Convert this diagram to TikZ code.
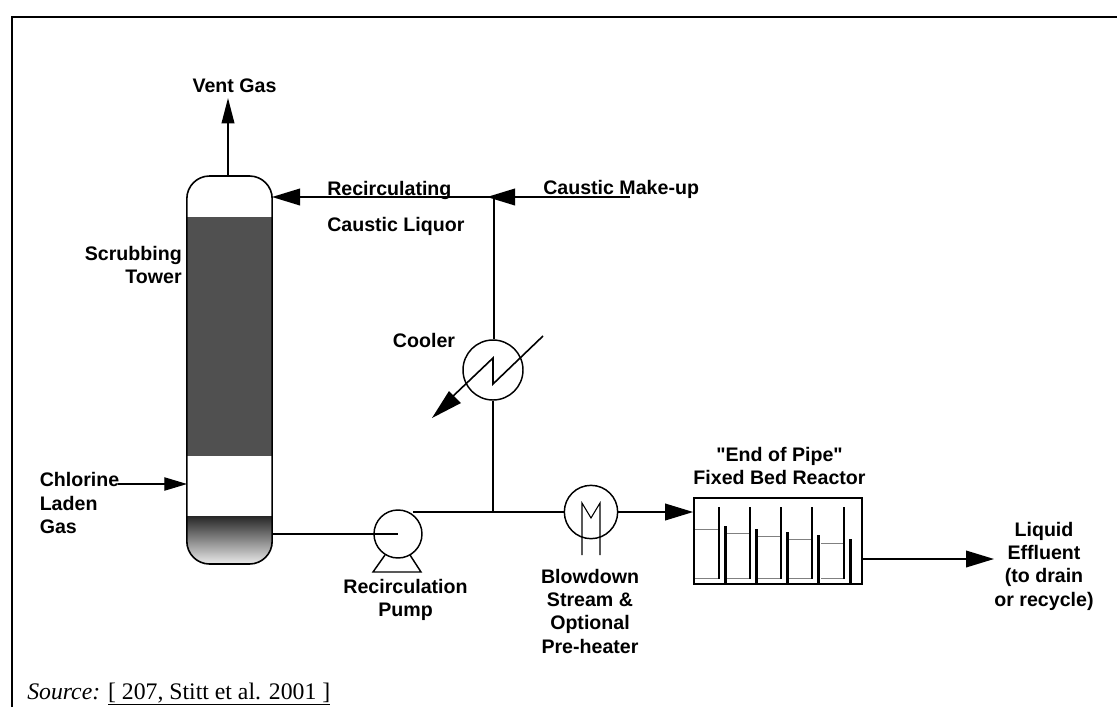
\documentclass[tikz,border=0pt]{standalone}
\usepackage{fontspec}
\setmainfont{Liberation Serif}
\setsansfont[Ligatures=TeXOff]{Liberation Sans}
\usetikzlibrary{arrows.meta}
\definecolor{packing}{HTML}{505050}
\definecolor{level}{HTML}{808080}

\begin{document}
\begin{tikzpicture}[
    x=0.75pt, y=-0.75pt,
    font=\sffamily\bfseries\fontsize{14.7}{17.5}\selectfont,
    streamlabel/.style={inner sep=0pt, align=center},
    pipe/.style={line width=1.2pt},
    flow/.style={pipe, -{Triangle[length=21pt, width=12.5pt]}},
    unit/.style={circle, draw, line width=1.1pt, inner sep=0pt, fill=white},
    vessel/.style={draw, line width=1.2pt, inner sep=0pt},
    baffle/.style={line width=1.7pt},
    liquid/.style={line width=0.7pt, level},
]

% ── Page and frame ──
\useasboundingbox (0,0) rectangle (1117,707);
\draw[line width=1.5pt] (12,707) -- (12,17) -- (1117,17);

% ── Scrubbing tower ──
\fill[packing] (186,217) rectangle (273,456);
\begin{scope}
    \clip[rounded corners=17pt] (187,176) rectangle (272,564);
    \shade[top color=black!85, bottom color=black!8] (187,516) rectangle (272,564);
\end{scope}
\node[vessel, rounded corners=17pt, minimum width=64pt, minimum height=291pt]
    (tower) at (229.5,370) {};
\coordinate (ventend) at (228,98);
\coordinate (towertop) at (272,197);
\coordinate (towergas) at (187,484);
\coordinate (towerout) at (272,534);

% ── Cooler, pump, pre-heater ──
\node[unit, minimum size=45pt] (cooler) at (493,370) {};
\node[unit, minimum size=36pt, fill=none] (pump) at (398,534) {};
\node[unit, minimum size=40pt] (heater) at (591,512) {};
\coordinate (tee) at (494,197);
\coordinate (junction) at (493,512);
\coordinate (pumpout) at (413,512);
\coordinate (makeup) at (630,197);
\coordinate (teehead) at (487,197);
\coordinate (gasin) at (118,484);

% ── Reactor ──
\node[vessel, line width=1.3pt, minimum width=126pt, minimum height=64pt]
    (reactor) at (778,541) {};
\coordinate (effluent) at (994,559);

% ── Pipes ──
\draw[pipe, -{Triangle[length=19pt, width=9.5pt]}] (tower.north -| ventend) -- (ventend);
\draw[flow] (tee) -- (towertop);
\draw[flow] (makeup) -- (teehead);
\draw[pipe] (tee) -- (tee |- cooler.north);
\draw[pipe] (cooler) -- (junction);
\draw[pipe] (pumpout) -- (junction) -- (heater);
\draw[flow] (heater) -- (reactor.west |- heater);
\draw[flow] (reactor.east |- effluent) -- (effluent);
\draw[line width=0.8pt, -{Triangle[length=17pt, width=10pt]}] (gasin) -- (towergas);
\draw[pipe] (towerout) -- (pump.center);

% ── Symbol details ──
\draw[pipe] (543,336) -- (493,384) -- (493,358) -- (450,399);
\fill (432,418) -- (449,391) -- (461,403) -- cycle;
\draw[line width=1.1pt] (385,555) -- (373,572) -- (421,572) -- (410,555);
\draw[line width=0.8pt] (582,555) -- (582,503) -- (591,518) -- (600,503) -- (600,555);

% ── Baffles: long, short and liquid level per stage ──
\foreach \bx/\by/\lv/\ls in {719/526/529/695, 750/529/533/727, 781/532/536/758, 812/535/539/789, 844/539/543/821} {
    \draw[baffle] (\bx,507) -- (\bx,579);
    \draw[baffle] (\bx+6.5,\by) -- (\bx+6.5,583);
    \draw[liquid] (\ls,\lv) -- (\bx-1,\lv);
    \draw[liquid] (\ls,578) -- (\bx-1,578);
}

% ── Labels ──
\node[streamlabel] (ventlabel) at (234.5,86) {Vent Gas};
\node[streamlabel, anchor=base west] (recirclabel) at (327,195) {Recirculating};
\node[streamlabel, anchor=base west] (liquorlabel) at (327,231) {Caustic Liquor};
\node[streamlabel, anchor=base west] (makeuplabel) at (543,194) {Caustic Make-up};
\node[streamlabel, align=right, anchor=east] (towerlabel) at (182,265) {Scrubbing\\Tower};
\node[streamlabel] (coolerlabel) at (424,340) {Cooler};
\node[streamlabel, align=left, anchor=west] (gaslabel) at (39.5,503) {Chlorine\\Laden\\Gas};
\node[streamlabel] (pumplabel) at (405.5,600) {Recirculation\\Pump};
\node[streamlabel] (heaterlabel) at (590,611) {Blowdown\\Stream \&\\Optional\\Pre-heater};
\node[streamlabel] (reactorlabel) at (779.5,466) {"End of Pipe"\\Fixed Bed Reactor};
\node[streamlabel] (effluentlabel) at (1044,566) {Liquid\\Effluent\\(to drain\\or recycle)};
\node[inner sep=0pt, anchor=base west, font=\rmfamily\mdseries\fontsize{17.8}{20}\selectfont]
    (sourcelabel) at (27,699) {\textit{Source:} \underline{[ 207, Stitt et al. 2001 ]}};

\end{tikzpicture}
\end{document}
